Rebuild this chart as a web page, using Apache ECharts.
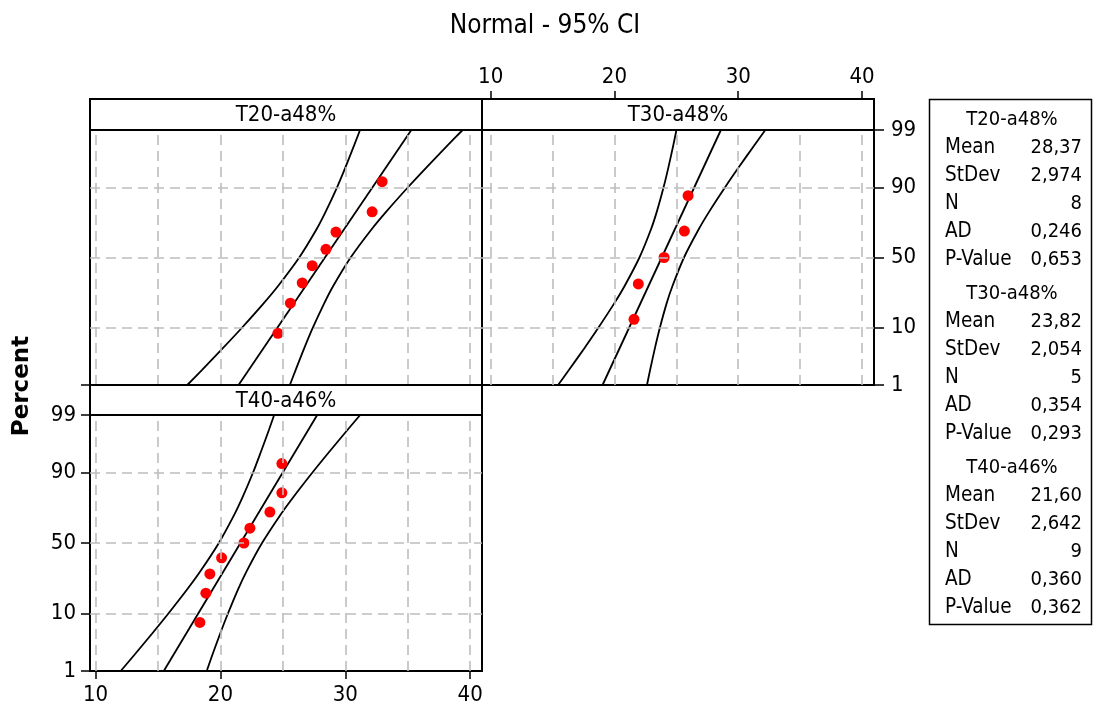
<!DOCTYPE html>
<html><head><meta charset="utf-8">
<script src="https://cdn.jsdelivr.net/npm/echarts@6/dist/echarts.min.js"></script>
<style>html,body{margin:0;padding:0;background:#fff}#chart{width:1096px;height:708px}</style>
</head><body><div id="chart"></div>
<script>
// ---------- data ----------
const chartTitle = 'Normal - 95% CI';
const yAxisName = 'Percent';
const panelNames = ['T20-a48%', 'T30-a48%', 'T40-a46%'];
const xTickValues = [10, 20, 30, 40];
const xGridValues = [10, 15, 20, 25, 30, 35, 40];
const yTickPercents = [1, 10, 50, 90, 99];
const yGridPercents = [10, 50, 90];

const t20Values = [24.60, 25.60, 26.55, 27.35, 28.45, 29.25, 32.15, 32.95];
const t20Percents = [8.33, 20.24, 32.14, 44.05, 55.95, 67.86, 79.76, 91.67];
const t30Values = [21.58, 21.93, 24.01, 25.65, 25.95];
const t30Percents = [12.96, 31.48, 50.00, 68.52, 87.04];
const t40Values = [18.35, 18.83, 19.15, 20.09, 21.88, 22.36, 23.96, 24.92, 24.92];
const t40Percents = [7.45, 18.09, 28.72, 39.36, 50.00, 60.64, 71.28, 81.91, 92.55];

const fitPercents = [1, 99];
const t20Fit = [21.45, 35.29];
const t30Fit = [19.04, 28.60];
const t40Fit = [15.46, 27.75];

const ciPercents = [1, 2, 5, 10, 20, 30, 50, 70, 80, 90, 95, 98, 99];
const t20Lower = [17.34, 18.51, 20.23, 21.72, 23.44, 24.60, 26.31, 27.72, 28.44, 29.34, 30.01, 30.72, 31.18];
const t20Upper = [25.56, 26.02, 26.73, 27.40, 28.30, 29.02, 30.43, 32.14, 33.30, 35.02, 36.51, 38.23, 39.40];
const t30Lower = [15.45, 16.32, 17.60, 18.70, 19.97, 20.81, 22.02, 22.97, 23.43, 23.97, 24.36, 24.76, 25.01];
const t30Upper = [22.63, 22.88, 23.28, 23.67, 24.21, 24.68, 25.62, 26.83, 27.67, 28.94, 30.04, 31.32, 32.19];
const t40Lower = [12.01, 13.03, 14.53, 15.83, 17.34, 18.36, 19.87, 21.13, 21.79, 22.61, 23.22, 23.88, 24.30];
const t40Upper = [18.90, 19.32, 19.98, 20.60, 21.41, 22.07, 23.33, 24.84, 25.86, 27.37, 28.67, 30.17, 31.19];

const statNames = ['Mean', 'StDev', 'N', 'AD', 'P-Value'];
const t20Stats = ['28,37', '2,974', '8', '0,246', '0,653'];
const t30Stats = ['23,82', '2,054', '5', '0,354', '0,293'];
const t40Stats = ['21,60', '2,642', '9', '0,360', '0,362'];

// ---------- normal probability scale (percent -> z) ----------
function probit(p) {
  const a = [-3.969683028665376e+01, 2.209460984245205e+02, -2.759285104469687e+02, 1.383577518672690e+02, -3.066479806614716e+01, 2.506628277459239e+00];
  const b = [-5.447609879822406e+01, 1.615858368580409e+02, -1.556989798598866e+02, 6.680131188771972e+01, -1.328068155288572e+01];
  const c = [-7.784894002430293e-03, -3.223964580411365e-01, -2.400758277161838e+00, -2.549732539343734e+00, 4.374664141464968e+00, 2.938163982698783e+00];
  const d = [7.784695709041462e-03, 3.224671290700398e-01, 2.445134137142996e+00, 3.754408661907416e+00];
  const pl = 0.02425, ph = 1 - pl;
  let q, r;
  if (p < pl) { q = Math.sqrt(-2 * Math.log(p)); return (((((c[0]*q+c[1])*q+c[2])*q+c[3])*q+c[4])*q+c[5]) / ((((d[0]*q+d[1])*q+d[2])*q+d[3])*q+1); }
  if (p <= ph) { q = p - 0.5; r = q*q; return (((((a[0]*r+a[1])*r+a[2])*r+a[3])*r+a[4])*r+a[5])*q / (((((b[0]*r+b[1])*r+b[2])*r+b[3])*r+b[4])*r+1); }
  q = Math.sqrt(-2 * Math.log(1 - p)); return -(((((c[0]*q+c[1])*q+c[2])*q+c[3])*q+c[4])*q+c[5]) / ((((d[0]*q+d[1])*q+d[2])*q+d[3])*q+1);
}
const zOf = pct => probit(pct / 100);
const yTickZ = yTickPercents.map(zOf);
const yMin = yTickZ[0], yMax = yTickZ[yTickZ.length - 1];
const yLabel = v => { let best = 0; yTickZ.forEach((t, i) => { if (Math.abs(t - v) < Math.abs(yTickZ[best] - v)) best = i; }); return String(yTickPercents[best]); };

// ---------- layout ----------
const FONT = '"DejaVu Sans Condensed", "DejaVu Sans", sans-serif';
const grids = [
  { left: 90, top: 130, width: 392, height: 255 },
  { left: 482, top: 130, width: 392, height: 255 },
  { left: 90, top: 415, width: 392, height: 256 }
];
const xRanges = [[9.55, 40.95], [9.30, 40.97], [9.55, 40.95]];
const panels = [
  { values: t20Values, percents: t20Percents, fit: t20Fit, lower: t20Lower, upper: t20Upper },
  { values: t30Values, percents: t30Percents, fit: t30Fit, lower: t30Lower, upper: t30Upper },
  { values: t40Values, percents: t40Percents, fit: t40Fit, lower: t40Lower, upper: t40Upper }
];

const tickStyle = { color: '#000', width: 1.5 };
const labelStyle = { color: '#000', fontSize: 22, fontFamily: FONT };

const xAxes = panels.map((p, i) => {
  const ax = {
    type: 'value', gridIndex: i, min: xRanges[i][0], max: xRanges[i][1],
    axisLine: { show: false, onZero: false }, splitLine: { show: false },
    axisTick: { show: false }, axisLabel: { show: false }
  };
  if (i === 1) {
    ax.position = 'top'; ax.offset = 31;
    ax.axisTick = { show: true, inside: false, length: 8, customValues: xTickValues, lineStyle: tickStyle };
    ax.axisLabel = Object.assign({ show: true, customValues: xTickValues, margin: 11 }, labelStyle);
  }
  if (i === 2) {
    ax.position = 'bottom';
    ax.axisTick = { show: true, inside: false, length: 8, customValues: xTickValues, lineStyle: tickStyle };
    ax.axisLabel = Object.assign({ show: true, customValues: xTickValues, margin: 13 }, labelStyle);
  }
  return ax;
});
const yAxes = panels.map((p, i) => {
  const ax = {
    type: 'value', gridIndex: i, min: yMin, max: yMax,
    axisLine: { show: false, onZero: false }, splitLine: { show: false },
    axisTick: { show: false }, axisLabel: { show: false }
  };
  if (i === 0) {
    ax.position = 'left';
    ax.axisTick = { show: true, inside: false, length: 9, customValues: [yMin], lineStyle: tickStyle };
  }
  if (i === 1 || i === 2) {
    ax.position = i === 1 ? 'right' : 'left';
    ax.axisTick = { show: true, inside: false, length: i === 1 ? 10 : 9, customValues: yTickZ, lineStyle: tickStyle };
    ax.axisLabel = Object.assign({ show: true, customValues: yTickZ, margin: i === 1 ? 17 : 14, formatter: yLabel }, labelStyle);
  }
  return ax;
});

const series = [];
panels.forEach((p, i) => {
  const lineBase = { type: 'line', xAxisIndex: i, yAxisIndex: i, symbol: 'none', silent: true,
    lineStyle: { color: '#000', width: 1.8 }, z: 3 };
  series.push(Object.assign({}, lineBase, { smooth: 0.3, data: ciPercents.map((pc, k) => [p.lower[k], zOf(pc)]) }));
  series.push(Object.assign({}, lineBase, { smooth: 0.3, data: ciPercents.map((pc, k) => [p.upper[k], zOf(pc)]) }));
  series.push(Object.assign({}, lineBase, { data: fitPercents.map((pc, k) => [p.fit[k], zOf(pc)]) }));
  series.push({
    type: 'scatter', xAxisIndex: i, yAxisIndex: i, symbol: 'circle', symbolSize: 11, z: 4,
    itemStyle: { color: '#ff0000', opacity: 1 },
    data: p.values.map((v, k) => [v, zOf(p.percents[k])]),
    markLine: {
      silent: true, symbol: 'none', label: { show: false }, animation: false,
      lineStyle: { color: '#bdbdbd', type: [10, 6], width: 1.6 },
      emphasis: { disabled: true },
      data: xGridValues.map(v => ({ xAxis: v })).concat(yGridPercents.map(pc => ({ yAxis: zOf(pc) })))
    }
  });
});

// ---------- decorations: headers, title, legend table ----------
const graphic = [];
const headerBoxes = [
  { x: 90, y: 99, w: 392, h: 31 },
  { x: 482, y: 99, w: 392, h: 31 },
  { x: 90, y: 385, w: 392, h: 30 }
];
headerBoxes.forEach((b, i) => {
  graphic.push({ type: 'rect', shape: { x: b.x, y: b.y, width: b.w, height: b.h }, style: { fill: '#fff', stroke: '#000', lineWidth: 2 }, z: 10 });
  graphic.push({ type: 'text', x: b.x + b.w / 2, y: b.y + b.h / 2 + 1, style: { text: panelNames[i], align: 'center', verticalAlign: 'middle', fontSize: 22, fontFamily: FONT, fill: '#000' }, z: 11 });
});
graphic.push({ type: 'text', x: 545, y: 26, style: { text: chartTitle, align: 'center', verticalAlign: 'middle', fontSize: 26, fontFamily: FONT, fill: '#000' } });
graphic.push({ type: 'text', x: 22, y: 386, rotation: Math.PI / 2, style: { text: yAxisName, align: 'center', verticalAlign: 'middle', fontSize: 23, fontWeight: 'bold', fontFamily: '"DejaVu Sans", sans-serif', fill: '#000' } });
graphic.push({ type: 'rect', shape: { x: 929.5, y: 99.5, width: 162, height: 525 }, style: { fill: 'none', stroke: '#000', lineWidth: 1.5 } });
const allStats = [t20Stats, t30Stats, t40Stats];
let row = 0;
const rowY = (r, g) => 120 + r * 28 + g * 6;
allStats.forEach((st, g) => {
  graphic.push({ type: 'text', x: 1012, y: rowY(row, g), style: { text: panelNames[g], align: 'center', verticalAlign: 'middle', fontSize: 20, fontFamily: FONT, fill: '#000' } });
  row++;
  statNames.forEach((nm, k) => {
    graphic.push({ type: 'text', x: 945, y: rowY(row, g), style: { text: nm, align: 'left', verticalAlign: 'middle', fontSize: 20.5, fontFamily: FONT, fill: '#000' } });
    graphic.push({ type: 'text', x: 1082, y: rowY(row, g), style: { text: st[k], align: 'right', verticalAlign: 'middle', fontSize: 20, fontFamily: FONT, fill: '#000' } });
    row++;
  });
});

const chart = echarts.init(document.getElementById('chart'), null, { renderer: 'canvas' });
chart.setOption({
  animation: false,
  backgroundColor: '#fff',
  grid: grids.map(g => Object.assign({ show: true, borderColor: '#000', borderWidth: 2, backgroundColor: 'transparent', containLabel: false, outerBoundsMode: 'none' }, g)),
  xAxis: xAxes,
  yAxis: yAxes,
  series: series,
  graphic: graphic
});
</script>
</body></html>
